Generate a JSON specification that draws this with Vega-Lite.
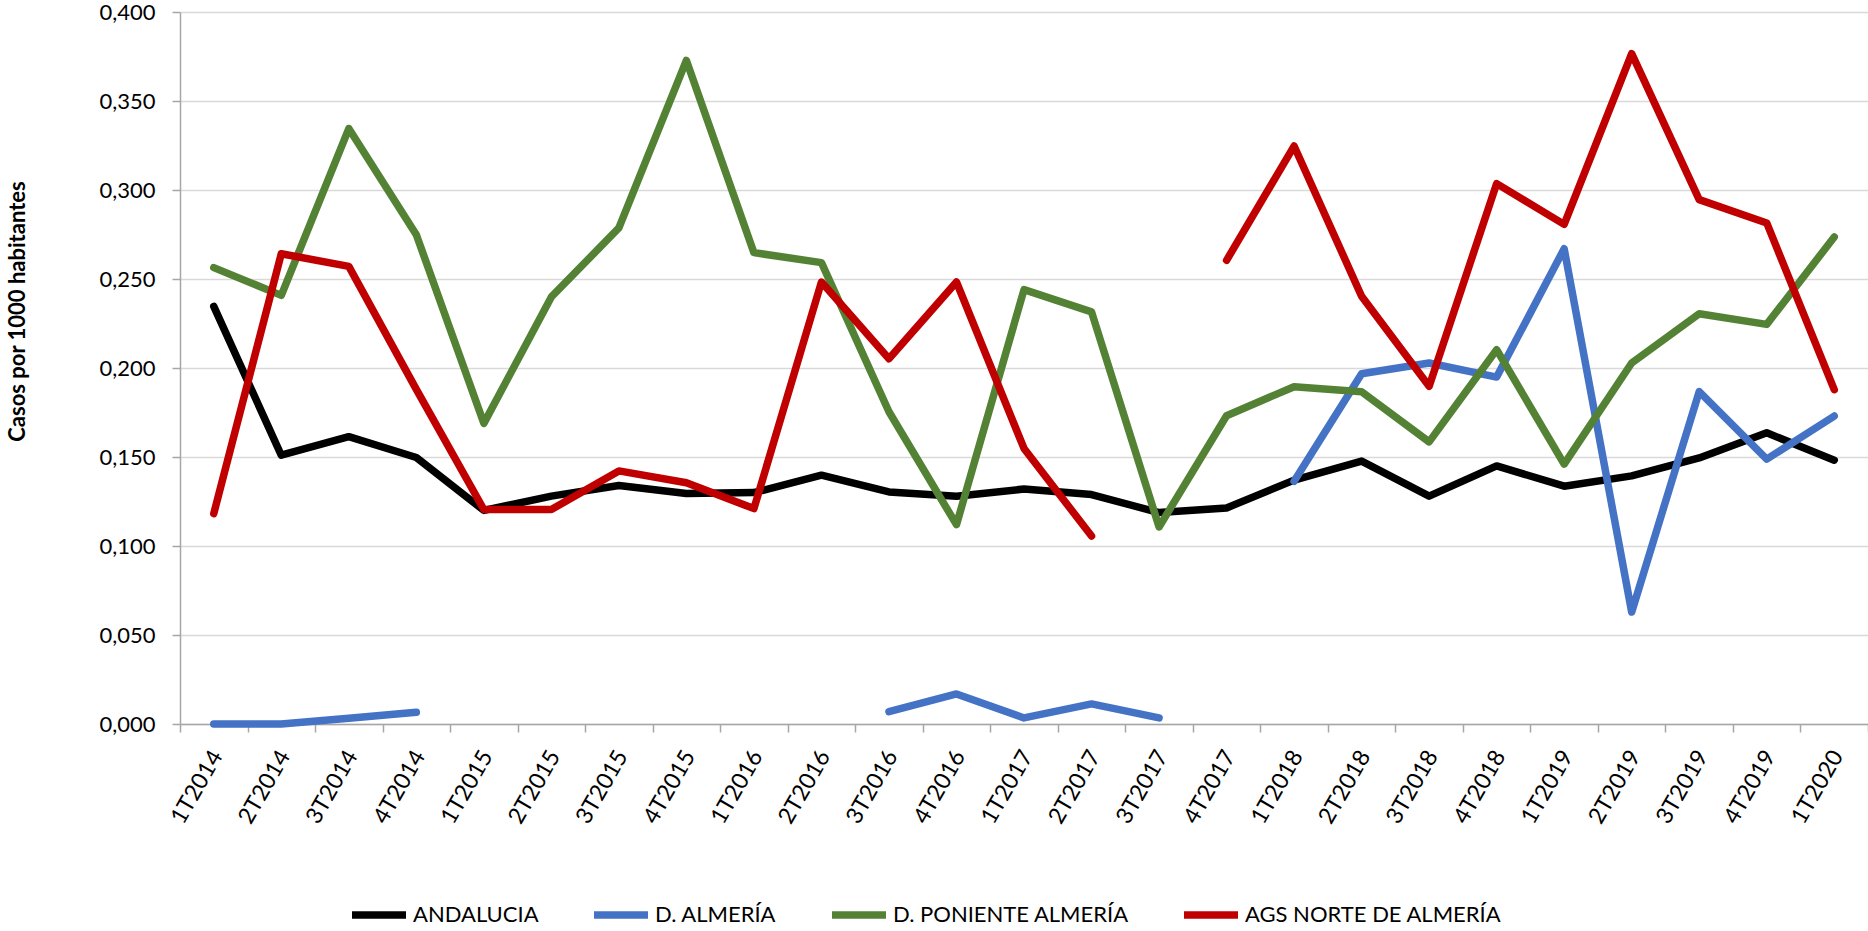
{
  "$schema": "https://vega.github.io/schema/vega-lite/v6.json",
  "autosize": {"type": "none"},
  "padding": {"left": 180, "top": 12, "right": 0, "bottom": 207},
  "width": 1688,
  "height": 712,
  "background": "white",
  "config": {"view": {"stroke": null}, "font": "Lato"},
  "data": {"values": [
    {"q":"1T2014","s":"ANDALUCIA","v":0.2346},{"q":"2T2014","s":"ANDALUCIA","v":0.151},{"q":"3T2014","s":"ANDALUCIA","v":0.1614},{"q":"4T2014","s":"ANDALUCIA","v":0.1497},{"q":"1T2015","s":"ANDALUCIA","v":0.120},{"q":"2T2015","s":"ANDALUCIA","v":0.128},{"q":"3T2015","s":"ANDALUCIA","v":0.134},{"q":"4T2015","s":"ANDALUCIA","v":0.1295},{"q":"1T2016","s":"ANDALUCIA","v":0.130},{"q":"2T2016","s":"ANDALUCIA","v":0.1398},{"q":"3T2016","s":"ANDALUCIA","v":0.1304},{"q":"4T2016","s":"ANDALUCIA","v":0.128},{"q":"1T2017","s":"ANDALUCIA","v":0.132},{"q":"2T2017","s":"ANDALUCIA","v":0.1289},{"q":"3T2017","s":"ANDALUCIA","v":0.1188},{"q":"4T2017","s":"ANDALUCIA","v":0.1214},{"q":"1T2018","s":"ANDALUCIA","v":0.137},{"q":"2T2018","s":"ANDALUCIA","v":0.1477},{"q":"3T2018","s":"ANDALUCIA","v":0.128},{"q":"4T2018","s":"ANDALUCIA","v":0.145},{"q":"1T2019","s":"ANDALUCIA","v":0.1336},{"q":"2T2019","s":"ANDALUCIA","v":0.1394},{"q":"3T2019","s":"ANDALUCIA","v":0.1495},{"q":"4T2019","s":"ANDALUCIA","v":0.1636},{"q":"1T2020","s":"ANDALUCIA","v":0.1482},
    {"q":"1T2014","s":"D. ALMERÍA","v":0.0},{"q":"2T2014","s":"D. ALMERÍA","v":0.0},{"q":"3T2014","s":"D. ALMERÍA","v":0.0032},{"q":"4T2014","s":"D. ALMERÍA","v":0.0066},{"q":"1T2015","s":"D. ALMERÍA","v":null},{"q":"2T2015","s":"D. ALMERÍA","v":null},{"q":"3T2015","s":"D. ALMERÍA","v":null},{"q":"4T2015","s":"D. ALMERÍA","v":null},{"q":"1T2016","s":"D. ALMERÍA","v":null},{"q":"2T2016","s":"D. ALMERÍA","v":null},{"q":"3T2016","s":"D. ALMERÍA","v":0.0069},{"q":"4T2016","s":"D. ALMERÍA","v":0.0169},{"q":"1T2017","s":"D. ALMERÍA","v":0.0034},{"q":"2T2017","s":"D. ALMERÍA","v":0.0113},{"q":"3T2017","s":"D. ALMERÍA","v":0.0034},{"q":"4T2017","s":"D. ALMERÍA","v":null},{"q":"1T2018","s":"D. ALMERÍA","v":0.1364},{"q":"2T2018","s":"D. ALMERÍA","v":0.1968},{"q":"3T2018","s":"D. ALMERÍA","v":0.2028},{"q":"4T2018","s":"D. ALMERÍA","v":0.1949},{"q":"1T2019","s":"D. ALMERÍA","v":0.267},{"q":"2T2019","s":"D. ALMERÍA","v":0.0629},{"q":"3T2019","s":"D. ALMERÍA","v":0.1867},{"q":"4T2019","s":"D. ALMERÍA","v":0.1488},{"q":"1T2020","s":"D. ALMERÍA","v":0.173},
    {"q":"1T2014","s":"D. PONIENTE ALMERÍA","v":0.2564},{"q":"2T2014","s":"D. PONIENTE ALMERÍA","v":0.2408},{"q":"3T2014","s":"D. PONIENTE ALMERÍA","v":0.3345},{"q":"4T2014","s":"D. PONIENTE ALMERÍA","v":0.2749},{"q":"1T2015","s":"D. PONIENTE ALMERÍA","v":0.1689},{"q":"2T2015","s":"D. PONIENTE ALMERÍA","v":0.2399},{"q":"3T2015","s":"D. PONIENTE ALMERÍA","v":0.2787},{"q":"4T2015","s":"D. PONIENTE ALMERÍA","v":0.3728},{"q":"1T2016","s":"D. PONIENTE ALMERÍA","v":0.2648},{"q":"2T2016","s":"D. PONIENTE ALMERÍA","v":0.2592},{"q":"3T2016","s":"D. PONIENTE ALMERÍA","v":0.1754},{"q":"4T2016","s":"D. PONIENTE ALMERÍA","v":0.112},{"q":"1T2017","s":"D. PONIENTE ALMERÍA","v":0.244},{"q":"2T2017","s":"D. PONIENTE ALMERÍA","v":0.2315},{"q":"3T2017","s":"D. PONIENTE ALMERÍA","v":0.1107},{"q":"4T2017","s":"D. PONIENTE ALMERÍA","v":0.1732},{"q":"1T2018","s":"D. PONIENTE ALMERÍA","v":0.1895},{"q":"2T2018","s":"D. PONIENTE ALMERÍA","v":0.1867},{"q":"3T2018","s":"D. PONIENTE ALMERÍA","v":0.1585},{"q":"4T2018","s":"D. PONIENTE ALMERÍA","v":0.2103},{"q":"1T2019","s":"D. PONIENTE ALMERÍA","v":0.146},{"q":"2T2019","s":"D. PONIENTE ALMERÍA","v":0.2028},{"q":"3T2019","s":"D. PONIENTE ALMERÍA","v":0.2305},{"q":"4T2019","s":"D. PONIENTE ALMERÍA","v":0.2245},{"q":"1T2020","s":"D. PONIENTE ALMERÍA","v":0.2736},
    {"q":"1T2014","s":"AGS NORTE DE ALMERÍA","v":0.1182},{"q":"2T2014","s":"AGS NORTE DE ALMERÍA","v":0.2642},{"q":"3T2014","s":"AGS NORTE DE ALMERÍA","v":0.2571},{"q":"4T2014","s":"AGS NORTE DE ALMERÍA","v":0.1880},{"q":"1T2015","s":"AGS NORTE DE ALMERÍA","v":0.1205},{"q":"2T2015","s":"AGS NORTE DE ALMERÍA","v":0.1205},{"q":"3T2015","s":"AGS NORTE DE ALMERÍA","v":0.1422},{"q":"4T2015","s":"AGS NORTE DE ALMERÍA","v":0.1355},{"q":"1T2016","s":"AGS NORTE DE ALMERÍA","v":0.121},{"q":"2T2016","s":"AGS NORTE DE ALMERÍA","v":0.2483},{"q":"3T2016","s":"AGS NORTE DE ALMERÍA","v":0.2052},{"q":"4T2016","s":"AGS NORTE DE ALMERÍA","v":0.2483},{"q":"1T2017","s":"AGS NORTE DE ALMERÍA","v":0.1548},{"q":"2T2017","s":"AGS NORTE DE ALMERÍA","v":0.1056},{"q":"3T2017","s":"AGS NORTE DE ALMERÍA","v":null},{"q":"4T2017","s":"AGS NORTE DE ALMERÍA","v":0.2605},{"q":"1T2018","s":"AGS NORTE DE ALMERÍA","v":0.3247},{"q":"2T2018","s":"AGS NORTE DE ALMERÍA","v":0.2403},{"q":"3T2018","s":"AGS NORTE DE ALMERÍA","v":0.1897},{"q":"4T2018","s":"AGS NORTE DE ALMERÍA","v":0.3036},{"q":"1T2019","s":"AGS NORTE DE ALMERÍA","v":0.2807},{"q":"2T2019","s":"AGS NORTE DE ALMERÍA","v":0.3766},{"q":"3T2019","s":"AGS NORTE DE ALMERÍA","v":0.2946},{"q":"4T2019","s":"AGS NORTE DE ALMERÍA","v":0.2815},{"q":"1T2020","s":"AGS NORTE DE ALMERÍA","v":0.1878}
  ]},
  "mark": {"type": "line", "strokeWidth": 7.5, "strokeJoin": "round", "strokeCap": "round"},
  "encoding": {
    "x": {
      "field": "q", "type": "ordinal", "bandPosition": 0.5,
      "scale": {"type": "band", "paddingInner": 0, "paddingOuter": 0,
        "domain": ["1T2014","2T2014","3T2014","4T2014","1T2015","2T2015","3T2015","4T2015","1T2016","2T2016","3T2016","4T2016","1T2017","2T2017","3T2017","4T2017","1T2018","2T2018","3T2018","4T2018","1T2019","2T2019","3T2019","4T2019","1T2020"]},
      "axis": {
        "title": null, "tickBand": "extent", "grid": false,
        "labelAngle": -60, "labelAlign": "right", "labelBaseline": "middle",
        "labelFont": "Lato", "labelFontSize": 23, "labelColor": "#000000",
        "labelPadding": 20, "labelOffset": 3,
        "tickSize": 8, "tickWidth": 1.5, "tickColor": "#a6a6a6",
        "domainColor": "#a6a6a6", "domainWidth": 1.5
      }
    },
    "y": {
      "field": "v", "type": "quantitative",
      "scale": {"domain": [0, 0.4], "nice": false, "zero": true},
      "axis": {
        "title": "Casos por 1000 habitantes",
        "titleFont": "Lato", "titleFontWeight": "bold", "titleFontSize": 22, "titleColor": "#000000",
        "titleX": -163, "titleY": 299, "titleAngle": -90, "titleAlign": "center", "titleBaseline": "middle",
        "values": [0, 0.05, 0.1, 0.15, 0.2, 0.25, 0.3, 0.35, 0.4],
        "labelExpr": "replace(format(datum.value, '.3f'), '.', ',')",
        "labelFont": "Lato", "labelFontSize": 22, "labelColor": "#000000", "labelPadding": 17,
        "tickSize": 8, "tickWidth": 1.5, "tickColor": "#a6a6a6",
        "domainColor": "#a6a6a6", "domainWidth": 1.5,
        "grid": true, "gridColor": "#d9d9d9", "gridWidth": 1.5
      }
    },
    "color": {
      "field": "s", "type": "nominal",
      "scale": {"domain": ["ANDALUCIA","D. ALMERÍA","D. PONIENTE ALMERÍA","AGS NORTE DE ALMERÍA"],
                "range": ["#000000","#4472c4","#548235","#c00000"]},
      "legend": {
        "title": null, "orient": "none", "direction": "horizontal",
        "legendX": 168, "legendY": 872,
        "symbolType": "stroke", "symbolSize": 2916, "symbolStrokeWidth": 7.5,
        "labelFont": "Lato", "labelFontSize": 22, "labelColor": "#000000", "labelLimit": 0,
        "labelOffset": 3, "columnPadding": 40
      }
    }
  }
}
